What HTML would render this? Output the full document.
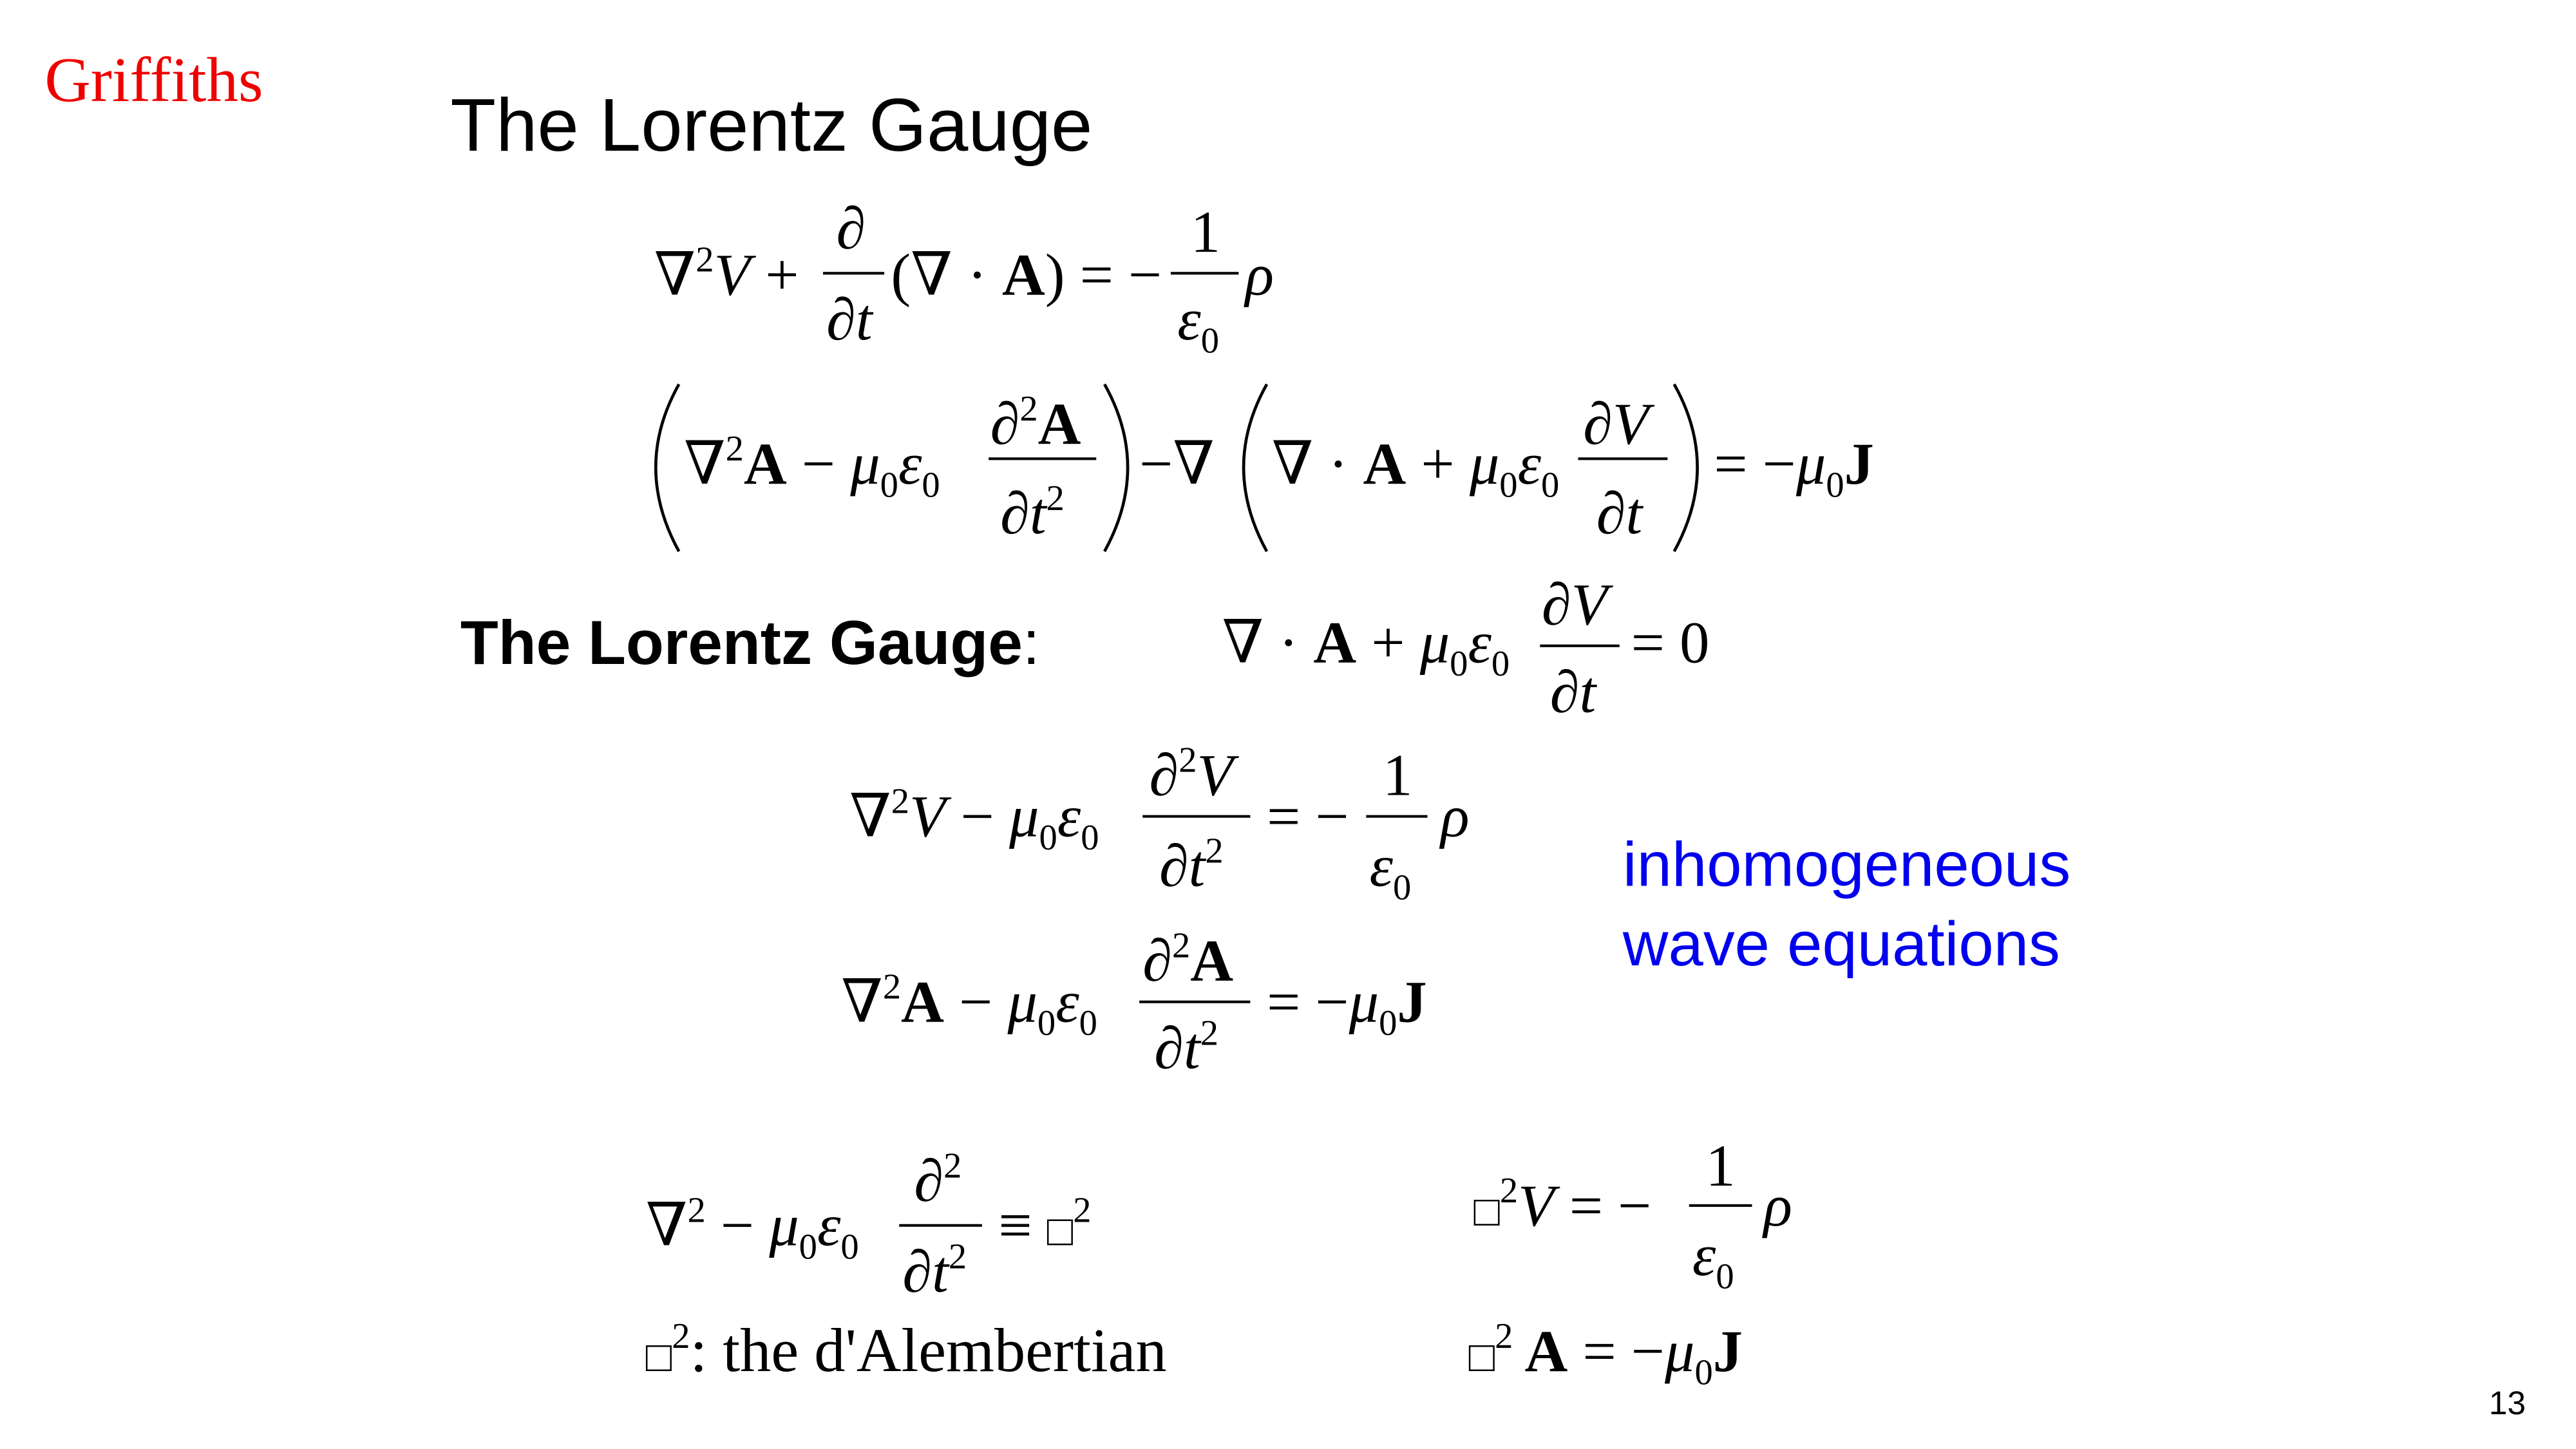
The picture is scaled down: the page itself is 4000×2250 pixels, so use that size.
<!DOCTYPE html>
<html><head><meta charset="utf-8"><style>
html,body{margin:0;padding:0;background:#fff;}
svg{display:block;}
.m{font-family:"Liberation Serif","DejaVu Serif",serif;font-size:36px;fill:#000;}
.i{font-style:italic;}
.b{font-weight:bold;}
.s{font-family:"Liberation Sans","DejaVu Sans",sans-serif;}
line{stroke:#000;stroke-width:1.6;}
path.p{fill:none;stroke:#000;stroke-width:1.8;}
</style></head><body>
<svg width="4000" height="2250" viewBox="0 0 1555.6 875" xmlns="http://www.w3.org/2000/svg">
<rect width="1555.6" height="875" fill="#fff"/>
<text x="27" y="61" style="font-family:'Liberation Serif',serif;font-size:38.5px;fill:#e00">Griffiths</text>
<text x="272" y="91" class="s" style="font-size:45px">The Lorentz Gauge</text>

<!-- Eq1 -->
<text class="m" x="395" y="178">∇<tspan font-size="22" dy="-14">2</tspan><tspan class="i" dy="14">V</tspan> + </text>
<text class="m i" x="505" y="150">∂</text><line x1="497" y1="165" x2="534" y2="165"/><text class="m i" x="499" y="205">∂t</text>
<text class="m" x="538" y="178">(∇ · <tspan class="b">A</tspan>) = −</text>
<text class="m" x="719" y="152">1</text><line x1="707" y1="165" x2="748" y2="165"/><text class="m i" x="711" y="205">ε<tspan font-size="22" dy="8" font-style="normal">0</tspan></text>
<text class="m i" x="752" y="178">ρ</text>

<!-- Eq2 -->
<path class="p" d="M410,232 Q382,282 410,333"/>
<text class="m" x="413" y="292">∇<tspan font-size="22" dy="-14">2</tspan><tspan class="b" dy="14">A</tspan> − <tspan class="i">μ</tspan><tspan font-size="22" dy="8">0</tspan><tspan class="i" dy="-8">ε</tspan><tspan font-size="22" dy="8">0</tspan></text>
<text class="m" x="598" y="268"><tspan class="i">∂</tspan><tspan font-size="22" dy="-14">2</tspan><tspan class="b" dy="14">A</tspan></text>
<line x1="597" y1="277" x2="662" y2="277"/>
<text class="m" x="604" y="322"><tspan class="i">∂t</tspan><tspan font-size="22" dy="-14">2</tspan></text>
<path class="p" d="M667,232 Q695,282 667,333"/>
<text class="m" x="688" y="292">−∇</text>
<path class="p" d="M765,232 Q737,282 765,333"/>
<text class="m" x="768" y="292">∇ · <tspan class="b">A</tspan> + <tspan class="i">μ</tspan><tspan font-size="22" dy="8">0</tspan><tspan class="i" dy="-8">ε</tspan><tspan font-size="22" dy="8">0</tspan></text>
<text class="m i" x="956" y="268">∂V</text>
<line x1="953" y1="277" x2="1007" y2="277"/>
<text class="m i" x="964" y="322">∂t</text>
<path class="p" d="M1011,232 Q1039,282 1011,333"/>
<text class="m" x="1035" y="292">= −<tspan class="i">μ</tspan><tspan font-size="22" dy="8">0</tspan><tspan class="b" dy="-8">J</tspan></text>

<!-- Lorentz gauge -->
<text x="278" y="401" class="s" style="font-size:37.5px"><tspan font-weight="bold">The Lorentz Gauge</tspan>:</text>
<text class="m" x="738" y="400">∇ · <tspan class="b">A</tspan> + <tspan class="i">μ</tspan><tspan font-size="22" dy="8">0</tspan><tspan class="i" dy="-8">ε</tspan><tspan font-size="22" dy="8">0</tspan></text>
<text class="m i" x="931" y="377">∂V</text>
<line x1="930" y1="390" x2="978" y2="390"/>
<text class="m i" x="936" y="430">∂t</text>
<text class="m" x="985" y="400">= 0</text>

<!-- Eq4 -->
<text class="m" x="513" y="505">∇<tspan font-size="22" dy="-14">2</tspan><tspan class="i" dy="14">V</tspan> − <tspan class="i">μ</tspan><tspan font-size="22" dy="8">0</tspan><tspan class="i" dy="-8">ε</tspan><tspan font-size="22" dy="8">0</tspan></text>
<text class="m" x="694" y="480"><tspan class="i">∂</tspan><tspan font-size="22" dy="-14">2</tspan><tspan class="i" dy="14">V</tspan></text>
<line x1="690" y1="493" x2="755" y2="493"/>
<text class="m" x="700" y="535"><tspan class="i">∂t</tspan><tspan font-size="22" dy="-14">2</tspan></text>
<text class="m" x="765" y="505">= −</text>
<text class="m" x="835" y="480">1</text><line x1="825" y1="493" x2="862" y2="493"/><text class="m i" x="827" y="535">ε<tspan font-size="22" dy="8" font-style="normal">0</tspan></text>
<text class="m i" x="870" y="505">ρ</text>

<text x="980" y="535" class="s" style="font-size:38px;fill:#0000ee">inhomogeneous</text>
<text x="980" y="583" class="s" style="font-size:38px;fill:#0000ee">wave equations</text>

<!-- Eq5 -->
<text class="m" x="508" y="617">∇<tspan font-size="22" dy="-14">2</tspan><tspan class="b" dy="14">A</tspan> − <tspan class="i">μ</tspan><tspan font-size="22" dy="8">0</tspan><tspan class="i" dy="-8">ε</tspan><tspan font-size="22" dy="8">0</tspan></text>
<text class="m" x="690" y="592"><tspan class="i">∂</tspan><tspan font-size="22" dy="-14">2</tspan><tspan class="b" dy="14">A</tspan></text>
<line x1="688" y1="605" x2="755" y2="605"/>
<text class="m" x="697" y="645"><tspan class="i">∂t</tspan><tspan font-size="22" dy="-14">2</tspan></text>
<text class="m" x="765" y="617">= −<tspan class="i">μ</tspan><tspan font-size="22" dy="8">0</tspan><tspan class="b" dy="-8">J</tspan></text>

<!-- Eq6 -->
<text class="m" x="390" y="752">∇<tspan font-size="22" dy="-14">2</tspan><tspan dy="14"> − </tspan><tspan class="i">μ</tspan><tspan font-size="22" dy="8">0</tspan><tspan class="i" dy="-8">ε</tspan><tspan font-size="22" dy="8">0</tspan></text>
<text class="m" x="552" y="725"><tspan class="i">∂</tspan><tspan font-size="22" dy="-14">2</tspan></text>
<line x1="543" y1="740" x2="593" y2="740"/>
<text class="m" x="545" y="780"><tspan class="i">∂t</tspan><tspan font-size="22" dy="-14">2</tspan></text>
<text class="m" x="603" y="752">≡  <tspan font-size="26">□</tspan><tspan font-size="22" dy="-14">2</tspan></text>

<!-- Eq7 -->
<text class="m" x="890" y="740"><tspan font-size="26">□</tspan><tspan font-size="22" dy="-14">2</tspan><tspan class="i" dy="14">V</tspan> = −</text>
<text class="m" x="1030" y="716">1</text><line x1="1020" y1="728" x2="1058" y2="728"/><text class="m i" x="1022" y="770">ε<tspan font-size="22" dy="8" font-style="normal">0</tspan></text>
<text class="m i" x="1065" y="740">ρ</text>

<text class="m" x="390" y="828" style="font-size:37.5px"><tspan font-size="26">□</tspan><tspan font-size="22" dy="-14">2</tspan><tspan dy="14">: the d'Alembertian</tspan></text>
<text class="m" x="887" y="828"><tspan font-size="26">□</tspan><tspan font-size="22" dy="-14">2</tspan><tspan class="b" dy="14"> A</tspan> = −<tspan class="i">μ</tspan><tspan font-size="22" dy="8">0</tspan><tspan class="b" dy="-8">J</tspan></text>

<text x="1503" y="854" class="s" style="font-size:20px">13</text>
</svg>
</body></html>
